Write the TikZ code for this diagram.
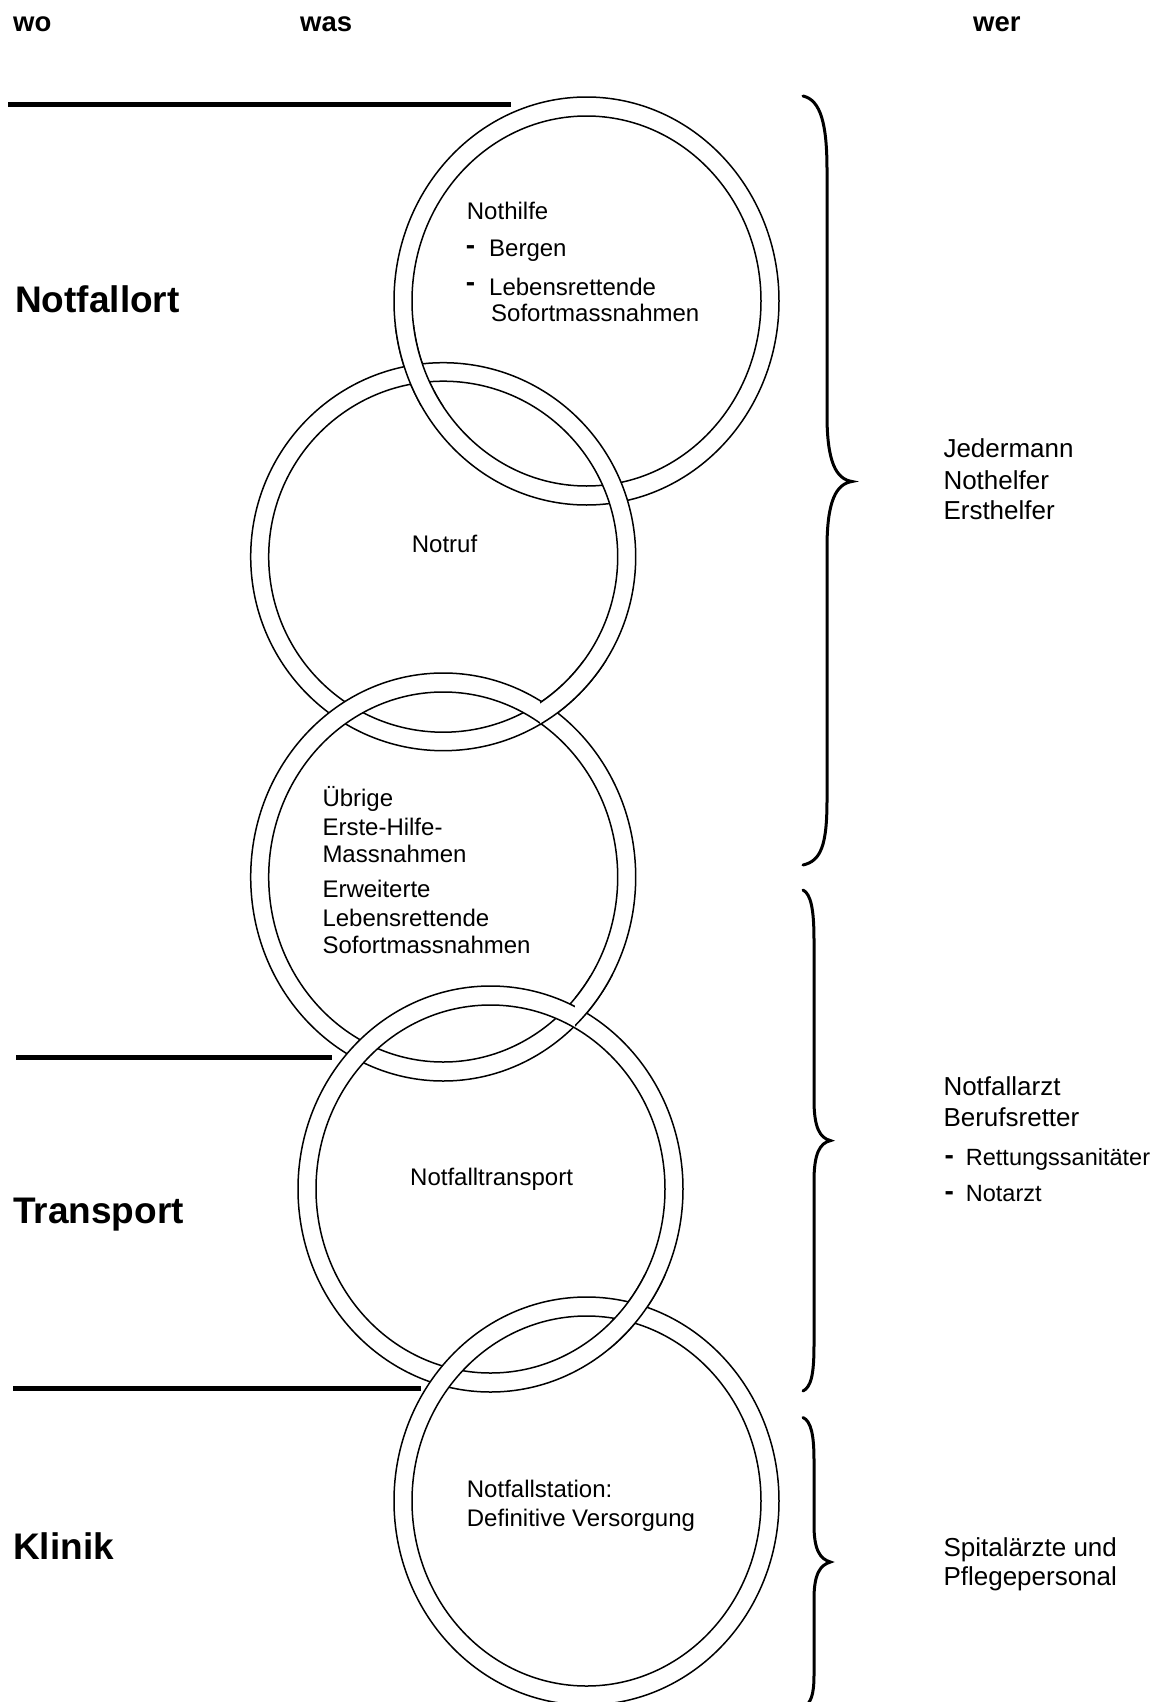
\documentclass[tikz,border=0pt]{standalone}
\usepackage{fontspec}
\setmainfont{Liberation Sans}
\newcommand\myring[5]{% center, rxo, ryo, rxi, ryi
  \fill[white,even odd rule] (#1) ellipse [x radius=#2pt, y radius=#3pt] (#1) ellipse [x radius=#4pt, y radius=#5pt];
  \draw[ringline] (#1) ellipse [x radius=#2pt, y radius=#3pt];
  \draw[ringline] (#1) ellipse [x radius=#4pt, y radius=#5pt];
}
\begin{document}
\begin{tikzpicture}[x=1pt,y=-1pt,
  ringline/.style={line width=1.5pt},
  sepline/.style={line width=5pt},
  bracepath/.style={line width=3pt, line cap=round},
  ctext/.style={inner sep=0pt, anchor=base west, font=\fontsize{24}{28}\selectfont},
  rtext/.style={inner sep=0pt, anchor=base west, font=\fontsize{26}{30}\selectfont},
  stext/.style={inner sep=0pt, anchor=base west, font=\fontsize{23.5}{28}\selectfont},
  dtext/.style={inner sep=0pt, anchor=base west, font=\fontsize{28}{30}\selectfont\bfseries},
  htext/.style={inner sep=0pt, anchor=base west, font=\fontsize{27.5}{32}\selectfont\bfseries},
  ltext/.style={inner sep=0pt, anchor=base west, font=\fontsize{37}{44}\selectfont\bfseries}]
\useasboundingbox (0,0) rectangle (1158,1702);
\clip (0,0) rectangle (1158,1702);
\fill[white] (0,0) rectangle (1158,1702);

% headers
\node[htext] (wo) at (13,31.7) {wo};
\node[htext] (was) at (300,31.7) {was};
\node[htext] (wer) at (973,31.7) {wer};

% separator lines
\draw[sepline] (8,104.3) -- (511,104.3);
\draw[sepline] (16,1057.5) -- (332,1057.5);
\draw[sepline] (13,1388) -- (421,1388);

% left labels
\node[ltext] (ort) at (15,312.6) {Notfallort};
\node[ltext] (transp) at (13,1223) {Transport};
\node[ltext] (klinik) at (13,1559.6) {Klinik};

% ring centres
\coordinate (c1) at (586.5,301);
\coordinate (c2) at (443.2,556.7);
\coordinate (c3) at (443.2,877);
\coordinate (c4) at (490.5,1189);
\coordinate (c5) at (586.5,1501);

% rings
\myring{c1}{192.5}{204}{174.5}{185}
\myring{c2}{192.5}{194}{174.5}{175.5}
\myring{c3}{192.5}{204}{174.5}{185}
\myring{c4}{192.5}{203}{174.5}{184}
\myring{c5}{192.5}{204}{174.5}{185}

% interlocking: earlier ring on top at some crossings
\begin{scope}
  \clip (365,325) rectangle (445,405);
  \myring{c1}{192.5}{204}{174.5}{185}
\end{scope}
\begin{scope}
  \clip (540,660) rectangle (620,750);
  \myring{c2}{192.5}{194}{174.5}{175.5}
\end{scope}
\begin{scope}
  \clip (575,975) rectangle (660,1060);
  \myring{c3}{192.5}{204}{174.5}{185}
\end{scope}
\begin{scope}
  \clip (610,1275) rectangle (695,1360);
  \myring{c4}{192.5}{203}{174.5}{184}
\end{scope}

% circle texts
\node[ctext] (t1) at (466.7,219.3) {Nothilfe};
\node[dtext] (d1) at (465.6,254.4) {-};
\node[ctext] (t2) at (489,256.7) {Bergen};
\node[dtext] (d2) at (465.6,291.7) {-};
\node[ctext] (t3) at (489,295) {Lebensrettende};
\node[ctext] (t4) at (491,321.5) {Sofortmassnahmen};

\node[ctext] (t5) at (411.7,552.3) {Notruf};

\node[ctext] (t6) at (322.3,806.7) {Übrige};
\node[ctext] (t7) at (322.3,835) {Erste-Hilfe-};
\node[ctext] (t8) at (322.3,862.3) {Massnahmen};
\node[ctext] (t9) at (322.3,897.7) {Erweiterte};
\node[ctext] (t10) at (322.3,926) {Lebensrettende};
\node[ctext] (t11) at (322.3,953.3) {Sofortmassnahmen};

\node[ctext] (t12) at (410,1185.7) {Notfalltransport};

\node[ctext] (t13) at (466.7,1497.7) {Notfallstation:};
\node[ctext] (t14) at (466.7,1526) {Definitive Versorgung};

% braces
\draw[bracepath] (803,96) .. controls (821,100) and (827,125) .. (827,170)
  -- (827,415) .. controls (827,462) and (836,479) .. (852,481.5)
  .. controls (836,484) and (827,501) .. (827,548)
  -- (827,800) .. controls (827,845) and (821,861) .. (803,865);
\draw[bracepath] (803,890) .. controls (811,894) and (814,910) .. (814,940)
  -- (814,1100) .. controls (814,1128) and (820,1138) .. (830.5,1140.6)
  .. controls (820,1143) and (814,1153) .. (814,1181)
  -- (814,1345) .. controls (814,1375) and (811,1387) .. (803,1391);
\draw[bracepath] (803,1417.5) .. controls (811,1421) and (814,1435) .. (814,1460)
  -- (814,1525) .. controls (814,1550) and (820,1559) .. (830.5,1562)
  .. controls (820,1565) and (814,1574) .. (814,1599)
  -- (814,1675) .. controls (814,1695) and (811,1703) .. (803,1708);

% right texts
\node[rtext] (r1) at (943.3,457.6) {Jedermann};
\node[rtext] (r2) at (943.3,489) {Nothelfer};
\node[rtext] (r3) at (943.3,519.3) {Ersthelfer};

\node[rtext] (r4) at (943.3,1095) {Notfallarzt};
\node[rtext] (r5) at (943.3,1126.5) {Berufsretter};
\node[dtext] (d3) at (944.5,1164.6) {-};
\node[stext] (r6) at (965.7,1165.8) {Rettungssanitäter};
\node[dtext] (d4) at (944.5,1200.7) {-};
\node[stext] (r7) at (965.7,1201) {Notarzt};

\node[rtext] (r8) at (943.3,1556.5) {Spitalärzte und};
\node[rtext] (r9) at (943.3,1585.3) {Pflegepersonal};
\end{tikzpicture}
\end{document}
